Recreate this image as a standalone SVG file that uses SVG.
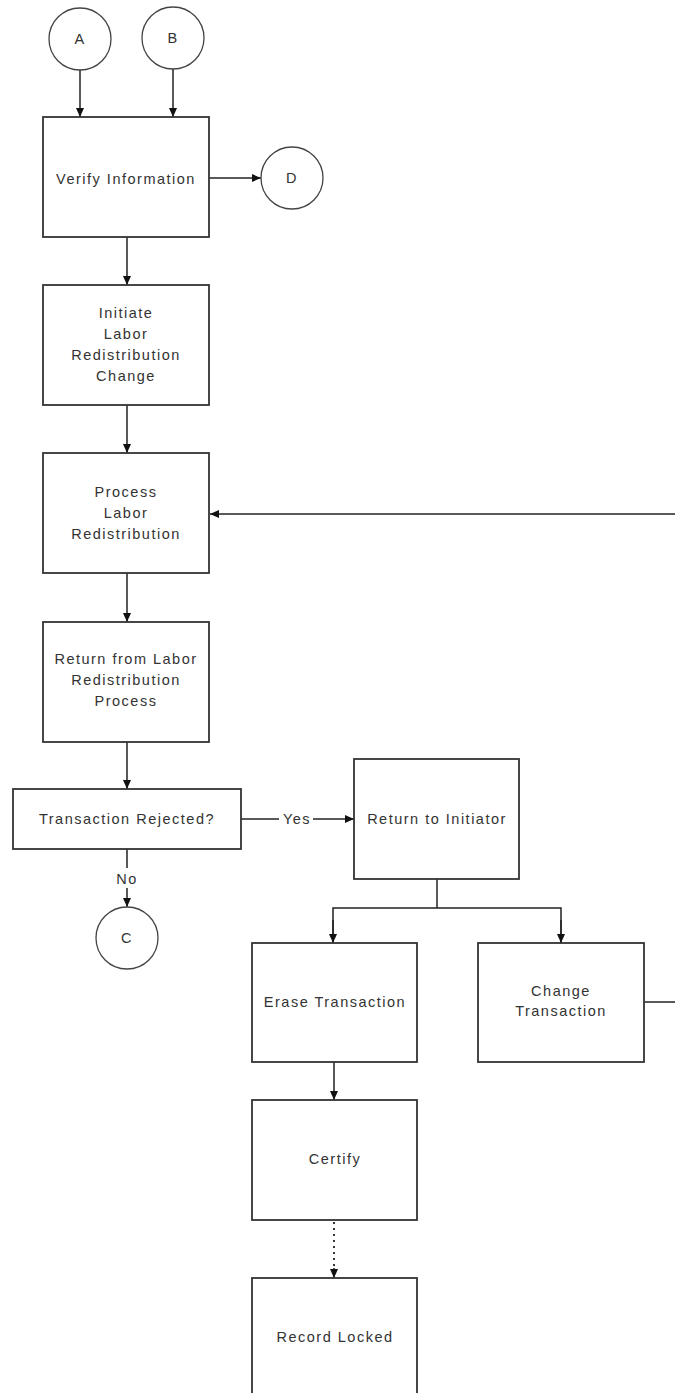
<svg xmlns="http://www.w3.org/2000/svg" width="675" height="1393" viewBox="0 0 675 1393">
<defs>
<marker id="arr" markerWidth="11" markerHeight="10" refX="9" refY="5" orient="auto" markerUnits="userSpaceOnUse">
<path d="M0,1 L9,5 L0,9 z" fill="#111"/>
</marker>
</defs>
<style>
.box{fill:#fff;stroke:#333;stroke-width:1.8}
.c{fill:#fff;stroke:#444;stroke-width:1.3}
.t{font-family:"Liberation Sans",Arial,sans-serif;font-size:14.5px;fill:#333;text-anchor:middle;letter-spacing:1.5px}
.ln{fill:none;stroke:#222;stroke-width:1.5}
.dot{fill:none;stroke:#222;stroke-width:1.8;stroke-dasharray:2 4}
</style>
<rect width="675" height="1393" fill="#fff"/>
<g id="connectors">
<line class="ln" x1="80" y1="70" x2="80" y2="117" marker-end="url(#arr)"/>
<line class="ln" x1="173" y1="69" x2="173" y2="117" marker-end="url(#arr)"/>
<line class="ln" x1="209" y1="178" x2="261" y2="178" marker-end="url(#arr)"/>
<line class="ln" x1="127" y1="237" x2="127" y2="285" marker-end="url(#arr)"/>
<line class="ln" x1="127" y1="405" x2="127" y2="453" marker-end="url(#arr)"/>
<line class="ln" x1="675" y1="514" x2="210" y2="514" marker-end="url(#arr)"/>
<line class="ln" x1="127" y1="573" x2="127" y2="622" marker-end="url(#arr)"/>
<line class="ln" x1="127" y1="742" x2="127" y2="789" marker-end="url(#arr)"/>
<line class="ln" x1="241" y1="819" x2="279" y2="819"/>
<line class="ln" x1="313" y1="819" x2="354" y2="819" marker-end="url(#arr)"/>
<text class="t" x="297" y="824">Yes</text>
<line class="ln" x1="127" y1="849" x2="127" y2="868"/>
<line class="ln" x1="127" y1="888" x2="127" y2="907" marker-end="url(#arr)"/>
<text class="t" x="127" y="884">No</text>
<polyline class="ln" points="437,879 437,908"/>
<polyline class="ln" points="333,943 333,908 561,908 561,943"/>
<line class="ln" x1="333" y1="920" x2="333" y2="943" marker-end="url(#arr)"/>
<line class="ln" x1="561" y1="920" x2="561" y2="943" marker-end="url(#arr)"/>
<line class="ln" x1="644" y1="1002" x2="675" y2="1002"/>
<line class="ln" x1="334" y1="1062" x2="334" y2="1100" marker-end="url(#arr)"/>
<line class="dot" x1="334" y1="1222" x2="334" y2="1268"/>
<line class="ln" x1="334" y1="1268" x2="334" y2="1278" marker-end="url(#arr)"/>
</g>
<g id="nodeA"><circle class="c" cx="80" cy="39" r="31"/><text class="t" x="80" y="44">A</text></g>
<g id="nodeB"><circle class="c" cx="173" cy="38" r="31"/><text class="t" x="173" y="43">B</text></g>
<g id="verify"><rect class="box" x="43" y="117" width="166" height="120"/><text class="t" x="126" y="184">Verify Information</text></g>
<g id="nodeD"><circle class="c" cx="292" cy="178" r="31"/><text class="t" x="292" y="183">D</text></g>
<g id="initiate"><rect class="box" x="43" y="285" width="166" height="120"/>
<text class="t" x="126" y="318">Initiate</text><text class="t" x="126" y="339">Labor</text><text class="t" x="126" y="360">Redistribution</text><text class="t" x="126" y="381">Change</text></g>
<g id="process"><rect class="box" x="43" y="453" width="166" height="120"/>
<text class="t" x="126" y="497">Process</text><text class="t" x="126" y="518">Labor</text><text class="t" x="126" y="539">Redistribution</text></g>
<g id="returnfrom"><rect class="box" x="43" y="622" width="166" height="120"/>
<text class="t" x="126" y="664">Return from Labor</text><text class="t" x="126" y="685">Redistribution</text><text class="t" x="126" y="706">Process</text></g>
<g id="decision"><rect class="box" x="13" y="789" width="228" height="60"/><text class="t" x="127" y="824">Transaction Rejected?</text></g>
<g id="nodeC"><circle class="c" cx="127" cy="938" r="31"/><text class="t" x="127" y="943">C</text></g>
<g id="returninit"><rect class="box" x="354" y="759" width="165" height="120"/><text class="t" x="437" y="824">Return to Initiator</text></g>
<g id="erase"><rect class="box" x="252" y="943" width="165" height="119"/><text class="t" x="335" y="1007">Erase Transaction</text></g>
<g id="change"><rect class="box" x="478" y="943" width="166" height="119"/><text class="t" x="561" y="996">Change</text><text class="t" x="561" y="1016">Transaction</text></g>
<g id="certify"><rect class="box" x="252" y="1100" width="165" height="120"/><text class="t" x="335" y="1164">Certify</text></g>
<g id="locked"><rect class="box" x="252" y="1278" width="165" height="130"/><text class="t" x="335" y="1342">Record Locked</text></g>
</svg>
